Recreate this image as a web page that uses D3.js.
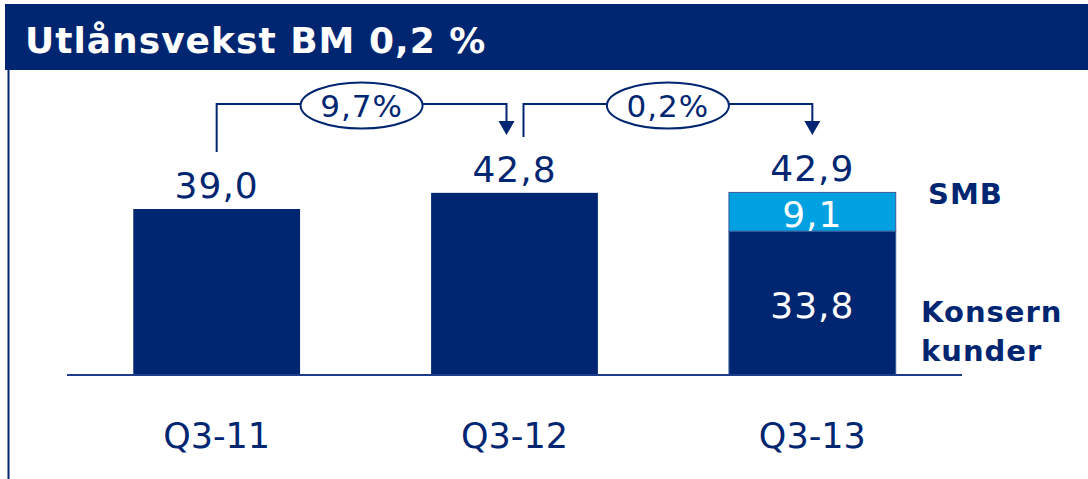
<!DOCTYPE html>
<html>
<head>
<meta charset="utf-8">
<script src="https://cdn.jsdelivr.net/npm/d3@7"></script>
<style>
  html, body { margin: 0; padding: 0; background: #ffffff; }
  svg { display: block; }
</style>
</head>
<body>
<svg id="chart" width="1088" height="479"></svg>
<script>
// Lending volume per quarter (NOK bn), split into group customers and SMB
const categories = ["Q3-11", "Q3-12", "Q3-13"];
const konsernValues = [39.0, 42.8, 33.8];
const smbValues = [0, 0, 9.1];
const totalValues = [39.0, 42.8, 42.9];
// Growth between consecutive quarters
const growthLabels = ["9,7%", "0,2%"];
const seriesNames = ["SMB", "Konsern", "kunder"];
const titleText = "Utlånsvekst BM 0,2 %";

const NAVY = "#002672";
const LIGHT = "#00a1e1";
const W = 1088, H = 479;
const fmt = v => d3.format(".1f")(v).replace(".", ",");

const svg = d3.select("#chart");

// Header band
svg.append("rect").attr("x", 5).attr("y", 4).attr("width", W - 5).attr("height", 66).attr("fill", NAVY);
svg.append("text").attr("x", 25).attr("y", 53)
  .attr("font-family", "DejaVu Sans, Verdana, sans-serif").attr("font-weight", "bold")
  .attr("font-size", 36).attr("letter-spacing", 1).attr("fill", "#ffffff")
  .text(titleText);
// Left frame line
svg.append("line").attr("x1", 8.5).attr("x2", 8.5).attr("y1", 70).attr("y2", H)
  .attr("stroke", NAVY).attr("stroke-width", 2);

// Scales
const x = d3.scaleBand().domain(categories).range([67, 962]).paddingInner(0.44).paddingOuter(0.2225);
const y = d3.scaleLinear().domain([0, 45]).range([375, 375 - 45 * 4.256]);

const rows = categories.map((c, i) => ({
  cat: c, konsern: konsernValues[i], smb: smbValues[i], total: totalValues[i]
}));
const stack = d3.stack().keys(["konsern", "smb"])(rows);

// Bars
const layers = svg.append("g").selectAll("g").data(stack).join("g")
  .attr("fill", d => d.key === "smb" ? LIGHT : NAVY);
layers.selectAll("rect").data(d => d.filter(s => s[1] > s[0])).join("rect")
  .attr("x", d => x(d.data.cat))
  .attr("y", d => y(d[1]))
  .attr("width", x.bandwidth())
  .attr("height", d => y(d[0]) - y(d[1]))
  .attr("stroke", d => d.data.smb > 0 ? "#3a5a9a" : "none")
  .attr("stroke-width", 1);

// Baseline
svg.append("line").attr("x1", 67).attr("x2", 962).attr("y1", y(0)).attr("y2", y(0))
  .attr("stroke", "#1d3d8c").attr("stroke-width", 2);

const valueFont = "DejaVu Sans, Verdana, sans-serif";

// Totals above bars
svg.append("g").selectAll("text").data(rows).join("text")
  .attr("x", d => x(d.cat) + x.bandwidth() / 2)
  .attr("y", d => y(d.total) - 11)
  .attr("text-anchor", "middle").attr("font-family", valueFont).attr("font-size", 36)
  .attr("letter-spacing", 1).attr("fill", NAVY)
  .text(d => fmt(d.total));

// Segment labels inside the stacked bar
const segs = [];
stack.forEach(layer => layer.forEach(s => {
  if (s.data.smb > 0 && s[1] > s[0]) segs.push({ cat: s.data.cat, lo: s[0], hi: s[1] });
}));
svg.append("g").selectAll("text").data(segs).join("text")
  .attr("x", d => x(d.cat) + x.bandwidth() / 2)
  .attr("y", d => (y(d.lo) + y(d.hi)) / 2 + 15)
  .attr("text-anchor", "middle").attr("font-family", valueFont).attr("font-size", 36)
  .attr("letter-spacing", 1).attr("fill", "#ffffff")
  .text(d => fmt(d.hi - d.lo));

// Category labels
svg.append("g").selectAll("text").data(categories).join("text")
  .attr("x", d => x(d) + x.bandwidth() / 2)
  .attr("y", 448)
  .attr("text-anchor", "middle").attr("font-family", valueFont).attr("font-size", 35)
  .attr("fill", NAVY)
  .text(d => d);

// Series labels on the right
const legend = svg.append("g").attr("font-family", valueFont).attr("font-weight", "bold")
  .attr("font-size", 29).attr("fill", NAVY).attr("letter-spacing", 1);
legend.append("text").attr("x", 928).attr("y", 204).text(seriesNames[0]);
legend.append("text").attr("x", 921).attr("y", 322).text(seriesNames[1]);
legend.append("text").attr("x", 921).attr("y", 361).text(seriesNames[2]);

// Growth brackets between consecutive bars
const arrowY = 104;
const g = svg.append("g");
growthLabels.forEach((lab, i) => {
  const c0 = x(categories[i]) + x.bandwidth() / 2;
  const c1 = x(categories[i + 1]) + x.bandwidth() / 2;
  const xs = i === 0 ? c0 : c0 + 9;
  const xe = i === 0 ? c1 - 8 : c1;
  const ys = i === 0 ? 152 : 137;
  g.append("path")
    .attr("d", `M${xs},${ys} V${arrowY} H${xe} V${121}`)
    .attr("fill", "none").attr("stroke", NAVY).attr("stroke-width", 2);
  g.append("path")
    .attr("d", `M${xe - 8},${121} L${xe + 8},${121} L${xe},${135} Z`)
    .attr("fill", NAVY);
  const cx = (xs + xe) / 2;
  g.append("ellipse").attr("cx", cx).attr("cy", 105.5).attr("rx", 61).attr("ry", 23)
    .attr("fill", "#ffffff").attr("stroke", NAVY).attr("stroke-width", 2);
  g.append("text").attr("x", cx).attr("y", 117)
    .attr("text-anchor", "middle").attr("font-family", valueFont).attr("font-size", 31)
    .attr("letter-spacing", 1).attr("fill", NAVY)
    .text(lab);
});
</script>
</body>
</html>
